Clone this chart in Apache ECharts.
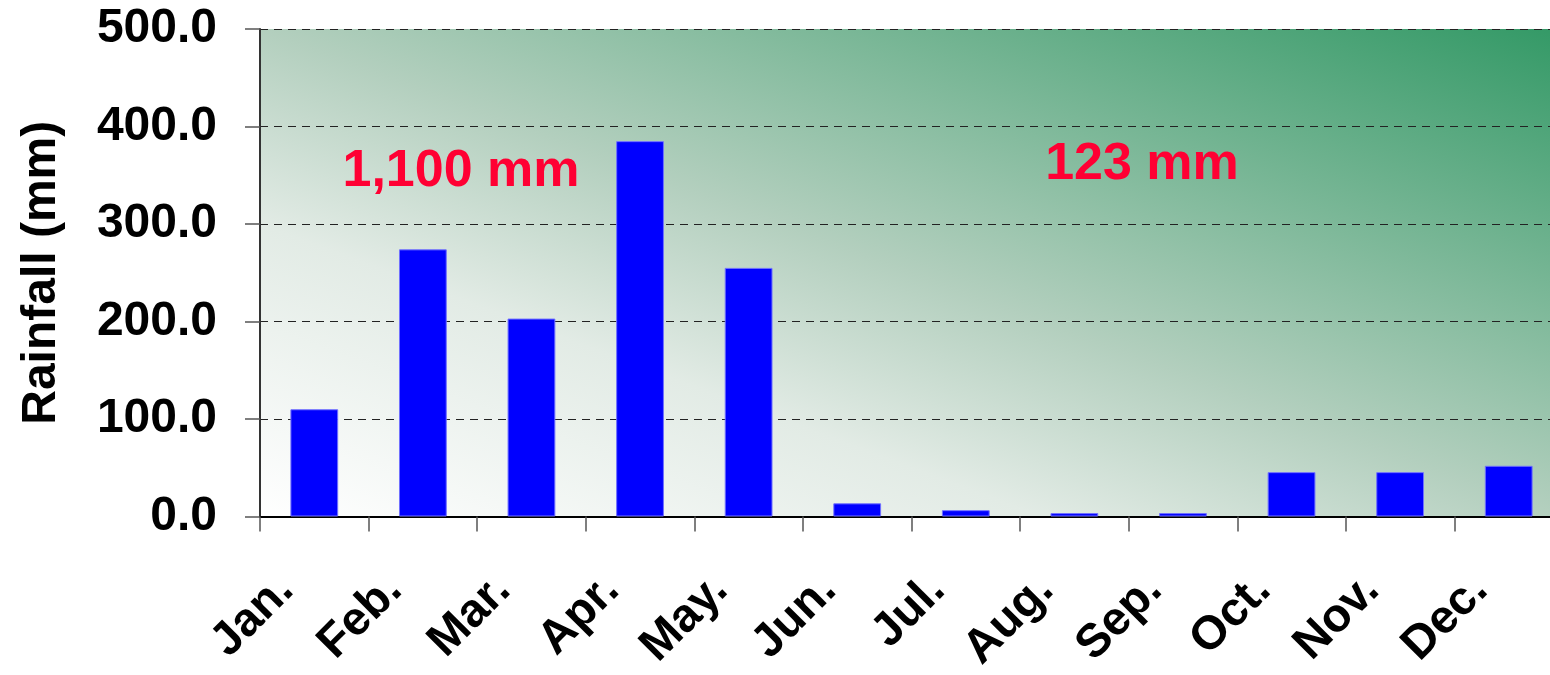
<!DOCTYPE html>
<html>
<head>
<meta charset="utf-8">
<script src="https://cdn.jsdelivr.net/npm/echarts@6/dist/echarts.min.js"></script>
<style>
  html, body { margin: 0; padding: 0; background: #ffffff; }
  #chart { width: 1550px; height: 675px; }
</style>
</head>
<body>
<div id="chart"></div>
<script>
// Monthly rainfall (mm)
var months = ['Jan.', 'Feb.', 'Mar.', 'Apr.', 'May.', 'Jun.', 'Jul.', 'Aug.', 'Sep.', 'Oct.', 'Nov.', 'Dec.'];
var rainfall = [110, 274, 203, 385, 255, 13.5, 6.5, 3.5, 3.5, 45.5, 45.5, 52];
var yTicks = { min: 0, max: 500, step: 100 };
var notes = ['1,100 mm', '123 mm'];

var FONT = '"Liberation Sans", Arial, Helvetica, sans-serif';
var W = 1550, H = 675;

// plot box (the right edge runs slightly past the canvas)
var plot = { left: 260, top: 29, right: -13, bottom: 158.5 };
var pw = W - plot.right - plot.left;
var ph = H - plot.bottom - plot.top;

// Diagonal wash whose bands run parallel to the top-left/bottom-right diagonal:
// pale at the bottom-left corner, full green at the top-right corner.
var gLen = Math.sqrt(pw * pw + ph * ph);
var gx = ph / gLen, gy = -pw / gLen;            // unit normal of that diagonal
var gSpan = 2 * pw * ph / gLen;                 // corner-to-corner extent along it
var gx0 = plot.left, gy0 = plot.top + ph;
var wash = new echarts.graphic.LinearGradient(
  gx0, gy0, gx0 + gx * gSpan, gy0 + gy * gSpan, [
    { offset: 0, color: '#ffffff' },
    { offset: 0.3, color: '#e2ebe5' },
    { offset: 0.5, color: '#b3cfbe' },
    { offset: 1, color: '#339966' }
  ], true);

var chart = echarts.init(document.getElementById('chart'), null, { renderer: 'canvas' });

chart.setOption({
  animation: false,
  backgroundColor: '#ffffff',
  grid: {
    left: plot.left,
    top: plot.top,
    right: plot.right,
    bottom: plot.bottom,
    containLabel: false,
    outerBoundsMode: 'none',
    show: true,
    borderWidth: 0,
    backgroundColor: wash
  },
  xAxis: {
    type: 'category',
    data: months,
    axisLine: { show: true, lineStyle: { color: '#000000', width: 2 } },
    axisTick: { show: true, length: 15, lineStyle: { color: '#555555', width: 1.5 } },
    axisLabel: {
      interval: 0,
      rotate: 45,
      margin: 38,
      padding: [0, 40, 0, 0],
      color: '#000000',
      fontFamily: FONT,
      fontWeight: 'bold',
      fontSize: 47
    },
    splitLine: { show: false }
  },
  yAxis: {
    type: 'value',
    min: yTicks.min,
    max: yTicks.max,
    interval: yTicks.step,
    name: 'Rainfall (mm)',
    nameLocation: 'middle',
    nameGap: 194,
    nameTextStyle: {
      color: '#000000',
      fontFamily: FONT,
      fontWeight: 'bold',
      fontSize: 48
    },
    axisLine: { show: true, lineStyle: { color: '#333333', width: 2 } },
    axisTick: { show: true, length: 15, lineStyle: { color: '#555555', width: 1.5 } },
    axisLabel: {
      margin: 43,
      color: '#000000',
      fontFamily: FONT,
      fontWeight: 'bold',
      fontSize: 48,
      formatter: function (v) { return v.toFixed(1); }
    },
    splitLine: {
      show: true,
      lineStyle: { color: '#222222', width: 1, type: [8, 6] }
    }
  },
  series: [{
    type: 'bar',
    data: rainfall,
    barWidth: '44%',
    itemStyle: {
      color: '#0000ff',
      borderColor: '#7070ff',
      borderWidth: 1
    }
  }],
  graphic: [
    {
      type: 'text',
      x: 461,
      y: 172,
      style: {
        text: notes[0],
        fill: '#ff0033',
        font: 'bold 52px ' + FONT,
        textAlign: 'center',
        textVerticalAlign: 'middle'
      }
    },
    {
      type: 'text',
      x: 1142,
      y: 165,
      style: {
        text: notes[1],
        fill: '#ff0033',
        font: 'bold 52px ' + FONT,
        textAlign: 'center',
        textVerticalAlign: 'middle'
      }
    }
  ]
});
</script>
</body>
</html>
